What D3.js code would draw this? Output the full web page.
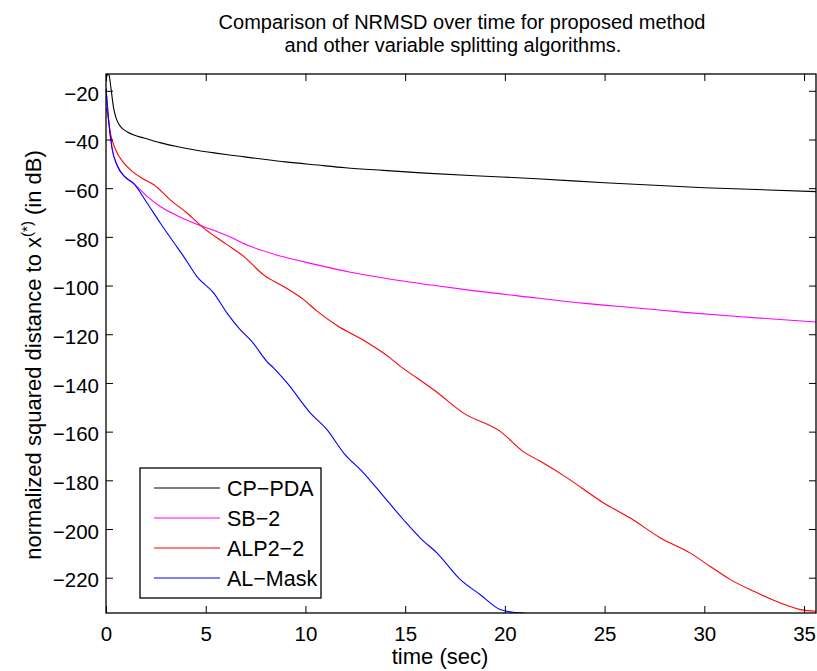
<!DOCTYPE html>
<html>
<head>
<meta charset="utf-8">
<script src="https://cdn.jsdelivr.net/npm/d3@7/dist/d3.min.js"></script>
<style>
  html, body { margin: 0; padding: 0; background: #fff; }
  svg text { font-family: "Liberation Sans", Arial, Helvetica, sans-serif; fill: #000; }
</style>
</head>
<body>
<svg id="chart" width="817" height="671"></svg>
<script>
// Series: [time (sec), normalized squared distance (dB)]
const cpPda = [[0,-16],[0.08,-13.3],[0.15,-13.6],[0.25,-19],[0.38,-27],[0.5,-31],[0.63,-33.5],[0.8,-35.3],[1.05,-36.8],[1.4,-38.2],[1.9,-39.4],[2.7,-41.3],[3.5,-42.8],[4.4,-44.2],[5.5,-45.6],[6.1,-46.3],[7.5,-47.7],[9,-49.2],[10.6,-50.5],[12,-51.6],[13.9,-52.7],[16,-53.8],[18.5,-54.9],[21.6,-56.1],[25,-57.8],[30,-59.8],[35.6,-61.4]];
const sb2 = [[0,-19],[0.05,-24],[0.13,-32],[0.3,-43.5],[0.55,-50.5],[0.97,-55.5],[1.38,-58],[2.06,-63.4],[2.72,-67.5],[3.5,-71],[4.39,-74.3],[5.23,-76.8],[6.2,-80],[7.24,-83.9],[8.8,-88],[10.58,-91.5],[12.2,-94.4],[13.92,-96.9],[16.3,-99.8],[18.5,-102.2],[21.61,-105.1],[24,-107.3],[26.63,-109.2],[29,-111],[31.64,-112.7],[35.6,-115]];
const alp22 = [[0,-27],[0.08,-29.5],[0.22,-37.4],[0.47,-44],[0.88,-49.5],[1.38,-53.5],[1.89,-56.3],[2.4,-58.6],[3.22,-64.8],[4.06,-70.2],[4.9,-76.4],[6.07,-83.2],[6.9,-88],[7.9,-95.6],[8.9,-100.4],[9.91,-105.8],[10.58,-110.5],[11.58,-116.4],[12.92,-122.5],[14.26,-129.8],[14.76,-133.2],[15.6,-138],[16.43,-142.8],[17.93,-152.4],[19.77,-159.9],[20.94,-168.3],[21.78,-172.2],[23.12,-179],[24.95,-189.3],[26.29,-195.5],[27.8,-203.7],[29.3,-209.9],[30.3,-215.4],[31.31,-220.8],[32.48,-225.6],[33.82,-230.4],[34.82,-233.1],[35.6,-233.8]];
const alMask = [[0,-19],[0.05,-24],[0.13,-32],[0.3,-43.5],[0.55,-50.5],[0.97,-55.5],[1.38,-58],[2.06,-66.1],[2.72,-74.3],[3.39,-82.2],[3.89,-88],[4.56,-96.3],[5.4,-103.1],[6.07,-111.3],[6.74,-118.2],[7.3,-122.8],[8.07,-131.2],[8.41,-133.9],[9.08,-140],[10.25,-152.4],[11.08,-159.2],[11.92,-168.8],[12.92,-177],[13.92,-186.6],[14.92,-196.2],[15.76,-203.7],[16.6,-209.9],[17.77,-220.8],[18.77,-227],[19.77,-233.1],[20.4,-234.2],[21.0,-234.5]];

const seriesNames = ["CP\u2212PDA", "SB\u22122", "ALP2\u22122", "AL\u2212Mask"];
const seriesColors = ["#000000", "#ff00ff", "#ff0000", "#0000ff"];
const seriesData = [cpPda, sb2, alp22, alMask];

const xTicks = [0, 5, 10, 15, 20, 25, 30, 35];
const yTicks = [-20, -40, -60, -80, -100, -120, -140, -160, -180, -200, -220];
const xDomain = [0, 35.6];
const yDomain = [-234.5, -13.1];

const titleLines = ["Comparison of NRMSD over time for proposed method", "and other variable splitting algorithms."];

const margin = { left: 106, top: 74, right: 1, bottom: 58 };
const W = 817, H = 671;
const plotW = W - margin.left - margin.right;
const plotH = H - margin.top - margin.bottom;

const svg = d3.select("#chart");
const g = svg.append("g").attr("transform", `translate(${margin.left},${margin.top})`);

const x = d3.scaleLinear().domain(xDomain).range([0, plotW]);
const y = d3.scaleLinear().domain(yDomain).range([plotH, 0]);

const tickFont = 20.5;
const titleFont = 20;
const legendFont = 21.5;
const labelFont = 22;
const tickLen = 7;

// clip region for curves
svg.append("defs").append("clipPath").attr("id", "plotClip")
  .append("rect").attr("x", 0).attr("y", 0).attr("width", plotW).attr("height", plotH);

// curves
const line = d3.line().x(d => x(d[0])).y(d => y(d[1])).curve(d3.curveMonotoneX);
const curves = g.append("g").attr("clip-path", "url(#plotClip)");
seriesData.forEach((data, i) => {
  curves.append("path").datum(data)
    .attr("d", line)
    .attr("fill", "none")
    .attr("stroke", seriesColors[i])
    .attr("stroke-width", 1.1)
    .attr("stroke-linejoin", "round");
});

// axes (inward ticks on all four sides)
function styleAxis(sel) {
  sel.select(".domain").remove();
  sel.selectAll(".tick line").attr("stroke", "#000").attr("stroke-width", 1);
  sel.selectAll(".tick text").attr("font-size", tickFont).attr("fill", "#000")
    .style("font-family", '"Liberation Sans", Arial, Helvetica, sans-serif');
}
const fmt = d => d < 0 ? "\u2212" + Math.abs(d) : String(d);

const xAxisB = g.append("g").attr("transform", `translate(0,${plotH})`)
  .call(d3.axisBottom(x).tickValues(xTicks).tickFormat(fmt).tickSizeInner(-tickLen).tickSizeOuter(0).tickPadding(13));
styleAxis(xAxisB);
const xAxisT = g.append("g")
  .call(d3.axisTop(x).tickValues(xTicks).tickFormat("").tickSizeInner(-tickLen).tickSizeOuter(0));
styleAxis(xAxisT);
const yAxisL = g.append("g")
  .call(d3.axisLeft(y).tickValues(yTicks).tickFormat(fmt).tickSizeInner(-tickLen).tickSizeOuter(0).tickPadding(7));
styleAxis(yAxisL);
yAxisL.selectAll(".tick text").attr("dy", "0.45em");
const yAxisR = g.append("g").attr("transform", `translate(${plotW},0)`)
  .call(d3.axisRight(y).tickValues(yTicks).tickFormat("").tickSizeInner(-tickLen).tickSizeOuter(0));
styleAxis(yAxisR);

// frame
g.append("rect").attr("x", 0).attr("y", 0).attr("width", plotW).attr("height", plotH)
  .attr("fill", "none").attr("stroke", "#000").attr("stroke-width", 1.3);

// title
const title = svg.append("text").attr("font-size", titleFont).attr("text-anchor", "middle");
title.append("tspan").attr("x", 462).attr("y", 29).text(titleLines[0]);
title.append("tspan").attr("x", 453).attr("y", 52).text(titleLines[1]);

// x label
svg.append("text").attr("x", 440).attr("y", 664)
  .attr("font-size", labelFont).attr("text-anchor", "middle").text("time (sec)");

// y label with superscript
const yl = svg.append("text")
  .attr("transform", "translate(41,355) rotate(-90)")
  .attr("font-size", labelFont).attr("text-anchor", "middle");
yl.append("tspan").text("normalized squared distance to x");
yl.append("tspan").attr("font-size", 15).attr("dy", -9).text("(*)");
yl.append("tspan").attr("dy", 9).text(" (in dB)");

// legend
const lg = svg.append("g").attr("transform", "translate(140,468)");
lg.append("rect").attr("x", 0).attr("y", 0).attr("width", 181).attr("height", 130)
  .attr("fill", "#fff").attr("stroke", "#000").attr("stroke-width", 1.3);
seriesNames.forEach((name, i) => {
  const cy = 20 + i * 30;
  lg.append("line").attr("x1", 14).attr("x2", 80).attr("y1", cy).attr("y2", cy)
    .attr("stroke", seriesColors[i]).attr("stroke-width", 1.1);
  lg.append("text").attr("x", 87).attr("y", cy + 7.5).attr("font-size", legendFont).text(name);
});
</script>
</body>
</html>
